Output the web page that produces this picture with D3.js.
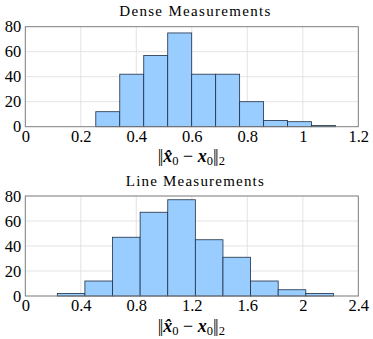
<!DOCTYPE html>
<html>
<head>
<meta charset="utf-8">
<script src="https://cdn.jsdelivr.net/npm/d3@7"></script>
<style>
  body { margin: 0; background: #fff; }
  text { font-family: "Liberation Serif", "DejaVu Serif", serif; fill: #000; }
</style>
</head>
<body>
<div id="chart"></div>
<script>
// histogram data (bin start, bin width, counts)
var denseTitle = "Dense Measurements";
var denseStart = 0.254, denseWidth = 0.0864;
var denseCounts = [12, 42, 57, 75, 42, 42, 20, 5, 4, 1];
var denseTicks = [0, 0.2, 0.4, 0.6, 0.8, 1, 1.2];

var lineTitle = "Line Measurements";
var lineStart = 0.2306, lineWidth = 0.199;
var lineCounts = [2, 12, 47, 67, 77, 45, 31, 12, 5, 2];
var lineTicks = [0, 0.4, 0.8, 1.2, 1.6, 2, 2.4];

var yTicks = [0, 20, 40, 60, 80];

var W = 373, H = 339;
var svg = d3.select("#chart").append("svg")
  .attr("width", W)
  .attr("height", H);

// draw one panel
function drawHist(top, title, titleLen, start, width, counts, xTicks) {
  var left = 25.3, pw = 333, ph = 100;
  var g = svg.append("g").attr("transform", "translate(" + left + "," + top + ")");

  var x = d3.scaleLinear().domain([0, xTicks[xTicks.length - 1]]).range([0, pw]);
  var y = d3.scaleLinear().domain([0, 80]).range([ph, 0]);

  var bins = counts.map(function(c, i) {
    return { x0: start + i * width, x1: start + (i + 1) * width, n: c };
  });

  // grid
  g.selectAll(".gx").data(xTicks).enter().append("line")
    .attr("x1", function(d) { return x(d); }).attr("x2", function(d) { return x(d); })
    .attr("y1", 0).attr("y2", ph)
    .attr("stroke", "#dcdcdc").attr("stroke-width", 0.8);
  g.selectAll(".gy").data(yTicks).enter().append("line")
    .attr("x1", 0).attr("x2", pw)
    .attr("y1", function(d) { return y(d); }).attr("y2", function(d) { return y(d); })
    .attr("stroke", "#dcdcdc").attr("stroke-width", 0.8);

  // bars
  g.selectAll(".bar").data(bins).enter().append("rect")
    .attr("x", function(d) { return x(d.x0); })
    .attr("width", function(d) { return x(d.x1) - x(d.x0); })
    .attr("y", function(d) { return y(d.n); })
    .attr("height", function(d) { return y(0) - y(d.n); })
    .attr("fill", "#99ccff")
    .attr("stroke", "#1e2f45")
    .attr("stroke-width", 0.8);

  // frame
  g.append("rect")
    .attr("width", pw).attr("height", ph)
    .attr("fill", "none").attr("stroke", "#7a7a7a").attr("stroke-width", 0.9);

  // axes, only for the labels
  var xAxis = d3.axisBottom(x).tickValues(xTicks).tickSize(0).tickPadding(3.5)
    .tickFormat(function(d) { return d3.format("")(d); });
  var ax = g.append("g").attr("transform", "translate(0," + ph + ")").call(xAxis);
  ax.select(".domain").remove();
  ax.selectAll("text").attr("font-size", 16.5).attr("font-family", "Liberation Serif");

  var yAxis = d3.axisLeft(y).tickValues(yTicks).tickSize(0).tickPadding(4);
  var ay = g.append("g").call(yAxis);
  ay.select(".domain").remove();
  ay.selectAll("text").attr("font-size", 16.5).attr("font-family", "Liberation Serif");

  // title
  g.append("text")
    .attr("x", pw / 2 + 3).attr("y", -10.5)
    .attr("text-anchor", "middle")
    .attr("font-size", 15)
    .attr("textLength", titleLen)
    .attr("lengthAdjust", "spacing")
    .text(title);

  // x label  ||x^_0 - x_0||_2
  var lab = g.append("text")
    .attr("x", 166).attr("y", ph + 35.5)
    .attr("text-anchor", "middle")
    .attr("font-size", 18);
  lab.append("tspan").attr("letter-spacing", -1.5).text("||");
  lab.append("tspan").attr("dx", 1.5).attr("font-style", "italic").attr("font-weight", "bold").text("x\u0302");
  lab.append("tspan").attr("font-size", 12.5).attr("dy", 3).text("0");
  lab.append("tspan").attr("dy", -3).text(" \u2212 ");
  lab.append("tspan").attr("font-style", "italic").attr("font-weight", "bold").text("x");
  lab.append("tspan").attr("font-size", 12.5).attr("dy", 3).text("0");
  lab.append("tspan").attr("dy", -3).attr("letter-spacing", -1.5).text("||");
  lab.append("tspan").attr("dx", 1.5).attr("font-size", 12.5).attr("dy", 3).text("2");
}

drawHist(26.7, denseTitle, 151, denseStart, denseWidth, denseCounts, denseTicks);
drawHist(196, lineTitle, 138, lineStart, lineWidth, lineCounts, lineTicks);
</script>
</body>
</html>
